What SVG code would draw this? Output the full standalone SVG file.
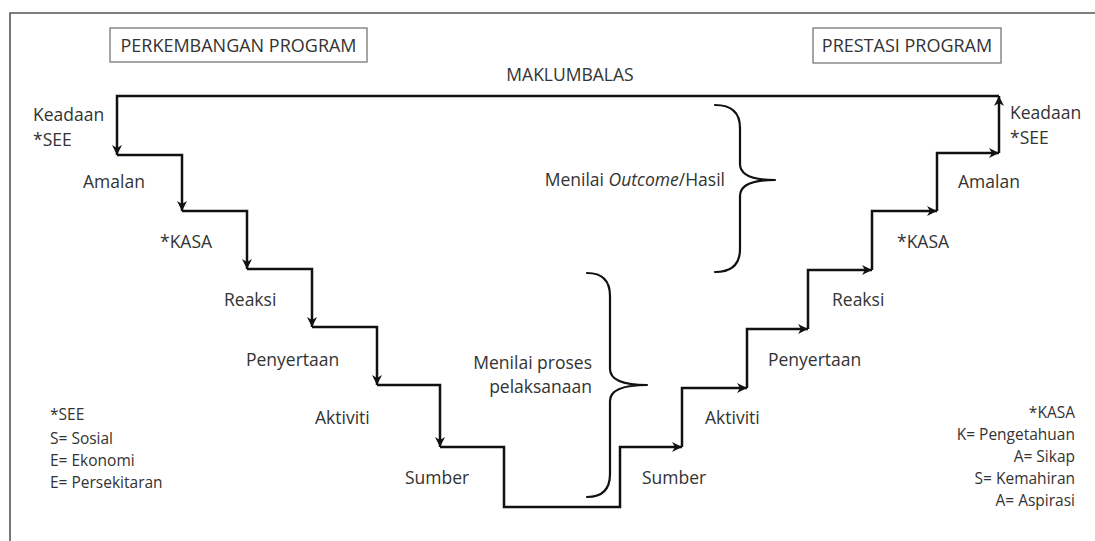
<svg xmlns="http://www.w3.org/2000/svg" width="1095" height="541" viewBox="0 0 1095 541">
  <defs>
    <marker id="arrow" markerUnits="userSpaceOnUse" markerWidth="12" markerHeight="12" refX="11" refY="6" orient="auto">
      <path d="M1,1 L11,6 L1,11 L4,6 z" fill="#111"/>
    </marker>
    <style>
      .lbl { font-family: "Open Sans", "Liberation Sans", sans-serif; font-size: 17.5px; fill: #333; }
      .key { font-family: "Open Sans", "Liberation Sans", sans-serif; font-size: 15.5px; fill: #333; }
      .ttl { font-family: "Open Sans", "Liberation Sans", sans-serif; font-size: 18px; fill: #333; }
      .box { fill: none; stroke: #777; stroke-width: 1.3; }
      .flow { fill: none; stroke: #111; stroke-width: 2.5; stroke-linejoin: miter; }
      .arr { marker-end: url(#arrow); }
      .brace { fill: none; stroke: #111; stroke-width: 2.2; stroke-linecap: round; }
    </style>
  </defs>

  <rect width="1095" height="541" fill="#fff"/>

  <!-- outer frame -->
  <path d="M10,541 V13 H1095" fill="none" stroke="#555" stroke-width="1.6"/>

  <!-- headings -->
  <g id="perkembangan">
    <rect class="box" x="110" y="28" width="257" height="34"/>
    <text class="ttl" x="238.5" y="51.5" text-anchor="middle">PERKEMBANGAN PROGRAM</text>
  </g>
  <g id="prestasi">
    <rect class="box" x="813" y="28" width="188" height="35"/>
    <text class="ttl" x="907" y="52" text-anchor="middle">PRESTASI PROGRAM</text>
  </g>
  <g id="maklumbalas">
    <text class="lbl" x="570" y="81" text-anchor="middle">MAKLUMBALAS</text>
  </g>

  <!-- connectors: descending and ascending stairs, feedback loop -->
  <g id="connectors">
    <path class="flow arr" d="M999,96 H117 V155"/>
    <path class="flow arr" d="M117,155 H182 V211"/>
    <path class="flow arr" d="M182,211 H247 V269"/>
    <path class="flow arr" d="M247,269 H312 V327"/>
    <path class="flow arr" d="M312,327 H377 V385"/>
    <path class="flow arr" d="M377,385 H440 V447"/>
    <path class="flow arr" d="M440,447 H504 V507 H620 V447 H682"/>
    <path class="flow arr" d="M682,447 V388 H747"/>
    <path class="flow arr" d="M747,388 V329 H808"/>
    <path class="flow arr" d="M808,329 V270 H872"/>
    <path class="flow arr" d="M872,270 V211 H937"/>
    <path class="flow arr" d="M937,211 V153 H999"/>
    <path class="flow arr" d="M999,153 V96"/>
  </g>

  <!-- left stair labels -->
  <g id="keadaan-kiri">
    <text class="lbl" x="33" y="121">Keadaan</text>
    <text class="lbl" x="33" y="146">*SEE</text>
  </g>
  <g id="amalan-kiri"><text class="lbl" x="83" y="188">Amalan</text></g>
  <g id="kasa-kiri"><text class="lbl" x="160" y="248">*KASA</text></g>
  <g id="reaksi-kiri"><text class="lbl" x="224" y="306">Reaksi</text></g>
  <g id="penyertaan-kiri"><text class="lbl" x="246" y="366">Penyertaan</text></g>
  <g id="aktiviti-kiri"><text class="lbl" x="315" y="424">Aktiviti</text></g>
  <g id="sumber-kiri"><text class="lbl" x="405" y="484">Sumber</text></g>

  <!-- right stair labels -->
  <g id="sumber-kanan"><text class="lbl" x="642" y="484">Sumber</text></g>
  <g id="aktiviti-kanan"><text class="lbl" x="705" y="424">Aktiviti</text></g>
  <g id="penyertaan-kanan"><text class="lbl" x="768" y="366">Penyertaan</text></g>
  <g id="reaksi-kanan"><text class="lbl" x="832" y="306">Reaksi</text></g>
  <g id="kasa-kanan"><text class="lbl" x="897" y="248">*KASA</text></g>
  <g id="amalan-kanan"><text class="lbl" x="958" y="188">Amalan</text></g>
  <g id="keadaan-kanan">
    <text class="lbl" x="1010" y="119">Keadaan</text>
    <text class="lbl" x="1010" y="144">*SEE</text>
  </g>

  <!-- outcome brace -->
  <g id="menilai-outcome">
    <path class="brace" d="M715,105 Q740,105 740,128 V164 Q740,180 775,180 M715,272 Q740,272 740,249 V196 Q740,180 775,180"/>
    <text class="lbl" x="725" y="186" text-anchor="end">Menilai <tspan font-style="italic">Outcome</tspan>/Hasil</text>
  </g>

  <!-- process brace -->
  <g id="menilai-proses">
    <path class="brace" d="M587,273 Q610,273 610,296 V369 Q610,385 647,385 M587,497 Q610,497 610,474 V401 Q610,385 647,385"/>
    <text class="lbl" x="592" y="369" text-anchor="end">Menilai proses</text>
    <text class="lbl" x="592" y="393" text-anchor="end">pelaksanaan</text>
  </g>

  <!-- keys -->
  <g id="kunci-see">
    <text class="key" x="50" y="420">*SEE</text>
    <text class="key" x="50" y="444">S= Sosial</text>
    <text class="key" x="50" y="466">E= Ekonomi</text>
    <text class="key" x="50" y="488">E= Persekitaran</text>
  </g>
  <g id="kunci-kasa">
    <text class="key" x="1075" y="418" text-anchor="end">*KASA</text>
    <text class="key" x="1075" y="440" text-anchor="end">K= Pengetahuan</text>
    <text class="key" x="1075" y="462" text-anchor="end">A= Sikap</text>
    <text class="key" x="1075" y="484" text-anchor="end">S= Kemahiran</text>
    <text class="key" x="1075" y="506" text-anchor="end">A= Aspirasi</text>
  </g>
</svg>
